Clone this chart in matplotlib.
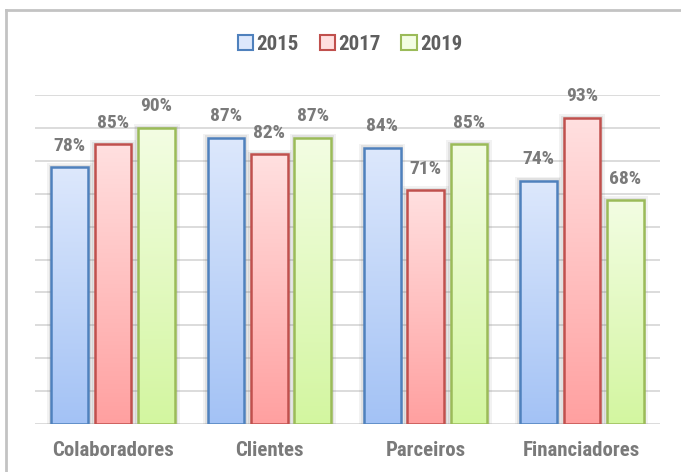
import numpy as np
import matplotlib.pyplot as plt
from matplotlib.patches import Rectangle, Patch
from matplotlib.colors import LinearSegmentedColormap
from matplotlib.lines import Line2D

categories = ["Colaboradores", "Clientes", "Parceiros", "Financiadores"]
years = ["2015", "2017", "2019"]
values = {
    "2015": [78, 87, 84, 74],
    "2017": [85, 82, 71, 93],
    "2019": [90, 87, 85, 68],
}

# cor topo, cor base, contorno
styles = {
    "2015": ("#dde8fc", "#a3c2f5", "#4f81bd"),
    "2017": ("#ffe0e0", "#ffa0a0", "#c0504d"),
    "2019": ("#f3fde3", "#d3f6a0", "#9bbb59"),
}

plt.rcParams['font.family'] = ['Roboto Condensed', 'DejaVu Sans']
txt_col = "#7a7a7a"

fig = plt.figure(figsize=(6.81, 4.72), dpi=100)
ax = fig.add_axes([35 / 681, 1 - 424 / 472, 625 / 681, 329 / 472])

x = np.arange(len(categories))
width = 0.235
step = 0.278

ax.set_xlim(-0.5, len(categories) - 0.5)
ax.set_ylim(0, 100)
for g in range(0, 101, 10):
    ax.axhline(g, color="#d9d9d9", lw=1.3, zorder=0)

grad = np.linspace(1, 0, 256).reshape(-1, 1)
for k, yr in enumerate(years):
    top, bot, edge = styles[yr]
    cmap = LinearSegmentedColormap.from_list(yr, [bot, top])
    for i, v in enumerate(values[yr]):
        x0 = x[i] + (k - 1) * step - width / 2
        # sombra
        for s, a in [(0.030, 0.10), (0.018, 0.15)]:
            sh = Rectangle((x0 - s, 0), width + 2 * s, v + s * 40, facecolor="#808080",
                           edgecolor="none", alpha=a, zorder=1)
            ax.add_patch(sh)
        rect = Rectangle((x0, 0), width, v, facecolor="none", edgecolor=edge, lw=1.8, zorder=3)
        ax.add_patch(rect)
        im = ax.imshow(grad[::-1], cmap=cmap, extent=[x0, x0 + width, 0, v], aspect="auto",
                       origin="lower", zorder=2)
        im.set_clip_path(rect)
        ax.text(x0 + width / 2, v + 6.6, f"{v}%", ha="center", va="center", fontsize=14,
                fontweight="bold", color=txt_col, zorder=4)

ax.set_xticks(x)
ax.set_xticklabels(categories, fontsize=15, fontweight="bold", color=txt_col)
ax.tick_params(axis="x", length=0, pad=12)
ax.set_yticks([])
for sp in ax.spines.values():
    sp.set_visible(False)

handles = [Patch(facecolor=styles[yr][0], edgecolor=styles[yr][2], lw=1.5) for yr in years]
leg = fig.legend(handles, years, loc="center", bbox_to_anchor=(350 / 681, 1 - 44 / 472), ncol=3,
                 frameon=False, handlelength=0.75, handleheight=0.75, handletextpad=0.15,
                 columnspacing=1.0, prop={"size": 15, "weight": "bold"})
for t in leg.get_texts():
    t.set_color("#5f5f5f")

# bordas do quadro (apenas topo e esquerda visíveis)
fig.add_artist(Line2D([6 / 681, 1], [1 - 9.5 / 472] * 2, color="#c3c3c3", lw=2))
fig.add_artist(Line2D([6 / 681] * 2, [0, 1 - 9.5 / 472], color="#c3c3c3", lw=2))

fig.savefig("out.png", dpi=100)
